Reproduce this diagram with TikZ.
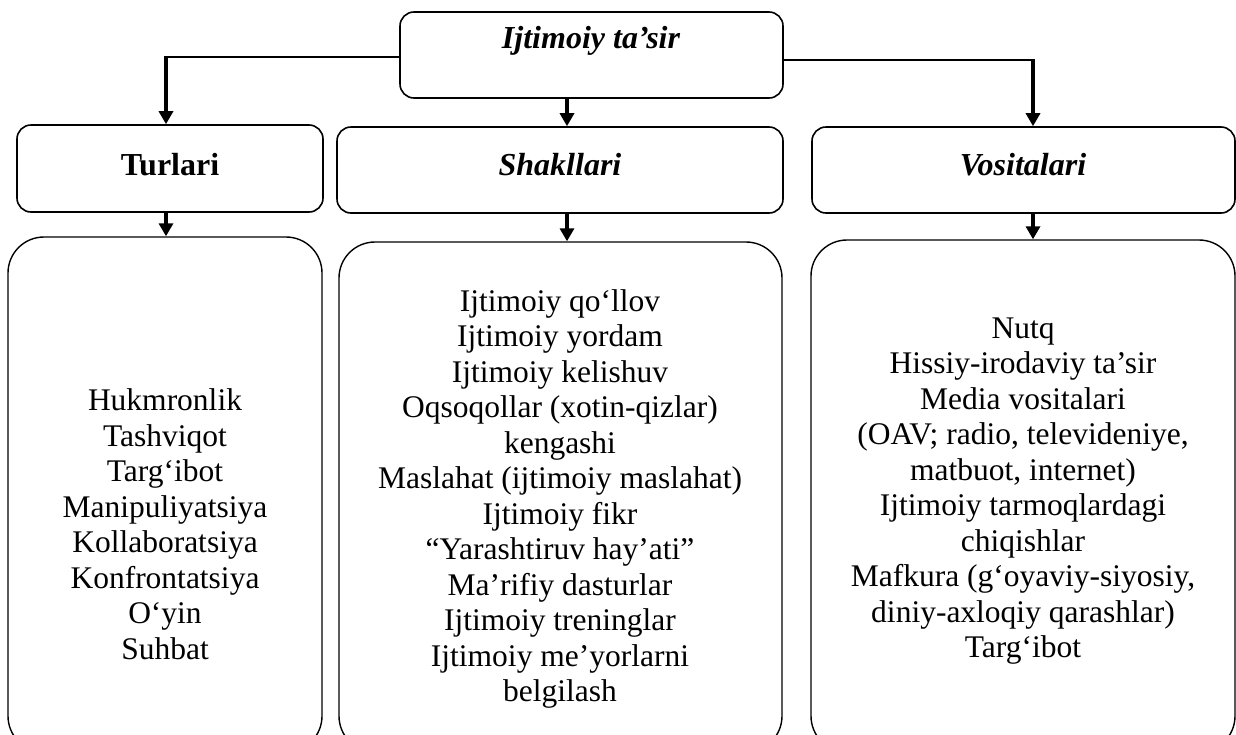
\documentclass[tikz,border=0pt]{standalone}
\usepackage{fontspec}
\setmainfont{Liberation Serif}
\usetikzlibrary{arrows.meta}
\begin{document}
\begin{tikzpicture}[x=1pt,y=-1pt,
 box/.style={draw,line width=1.6pt,rounded corners=14pt,inner sep=0pt},
 bigbox/.style={draw,line width=1.4pt,rounded corners=36pt,inner sep=0pt},
 txt/.style={font=\fontsize{31.5}{35.5}\selectfont,align=center,inner sep=0pt},
 head/.style={font=\fontsize{32}{36}\selectfont\bfseries\itshape,inner sep=0pt},
 headup/.style={font=\fontsize{32}{36}\selectfont\bfseries,inner sep=0pt},
 thinline/.style={line width=1.2pt},
 arr/.style={line width=3.5pt,-{Triangle[width=14pt,length=13pt]}}]
\useasboundingbox (0,0) rectangle (1236,734);
\clip (0,0) rectangle (1236,734);
% boxes
\node[box,minimum width=383pt,minimum height=86pt] (top) at (591.5,55) {};
\node[box,minimum width=306pt,minimum height=87pt] (tur) at (170,168.5) {};
\node[box,minimum width=446pt,minimum height=86pt] (sha) at (560,170) {};
\node[box,minimum width=423pt,minimum height=86pt] (vos) at (1023.5,170) {};
\node[bigbox,minimum width=314pt,minimum height=515pt] (bl) at (165,494.5) {};
\node[bigbox,minimum width=443pt,minimum height=510pt] (bm) at (560.5,497) {};
\node[bigbox,minimum width=424pt,minimum height=512pt] (br) at (1023,496) {};
% headings
\node[head] (toptxt) at (591,41) {Ijtimoiy ta’sir};
\node[headup] (turtxt) at (170,165) {Turlari};
\node[head] (shatxt) at (560,165) {Shakllari};
\node[head] (vostxt) at (1023,165) {Vositalari};
% lists
\node[txt] (l1) at (165,524) {Hukmronlik\\Tashviqot\\Targ‘ibot\\Manipuliyatsiya\\Kollaboratsiya\\Konfrontatsiya\\O‘yin\\Suhbat};
\node[txt] (l2) at (560,499) {Ijtimoiy qo‘llov\\Ijtimoiy yordam\\Ijtimoiy kelishuv\\Oqsoqollar (xotin-qizlar)\\kengashi\\Maslahat (ijtimoiy maslahat)\\Ijtimoiy fikr\\“Yarashtiruv hay’ati”\\Ma’rifiy dasturlar\\Ijtimoiy treninglar\\Ijtimoiy me’yorlarni\\belgilash};
\node[txt] (l3) at (1023,491) {Nutq\\Hissiy-irodaviy ta’sir\\Media vositalari\\(OAV; radio, televideniye,\\matbuot, internet)\\Ijtimoiy tarmoqlardagi\\chiqishlar\\Mafkura (g‘oyaviy-siyosiy,\\diniy-axloqiy qarashlar)\\Targ‘ibot};
% connectors
\coordinate (cL) at (166,57);
\coordinate (cR) at (1033,60);
\coordinate (cM) at (567,98);
\draw[thinline] (top.west |- cL) -- ([xshift=-1.75pt]cL);
\draw[arr] ([yshift=-0.6pt]cL) -- (cL |- tur.north);
\draw[thinline] (top.east |- cR) -- ([xshift=1.75pt]cR);
\draw[arr] ([yshift=-0.6pt]cR) -- (cR |- vos.north);
\draw[arr] (cM |- top.south) -- (cM |- sha.north);
\draw[arr] (cL |- tur.south) -- (cL |- bl.north);
\draw[arr] (cM |- sha.south) -- (cM |- bm.north);
\draw[arr] (cR |- vos.south) -- (cR |- br.north);
\end{tikzpicture}
\end{document}
